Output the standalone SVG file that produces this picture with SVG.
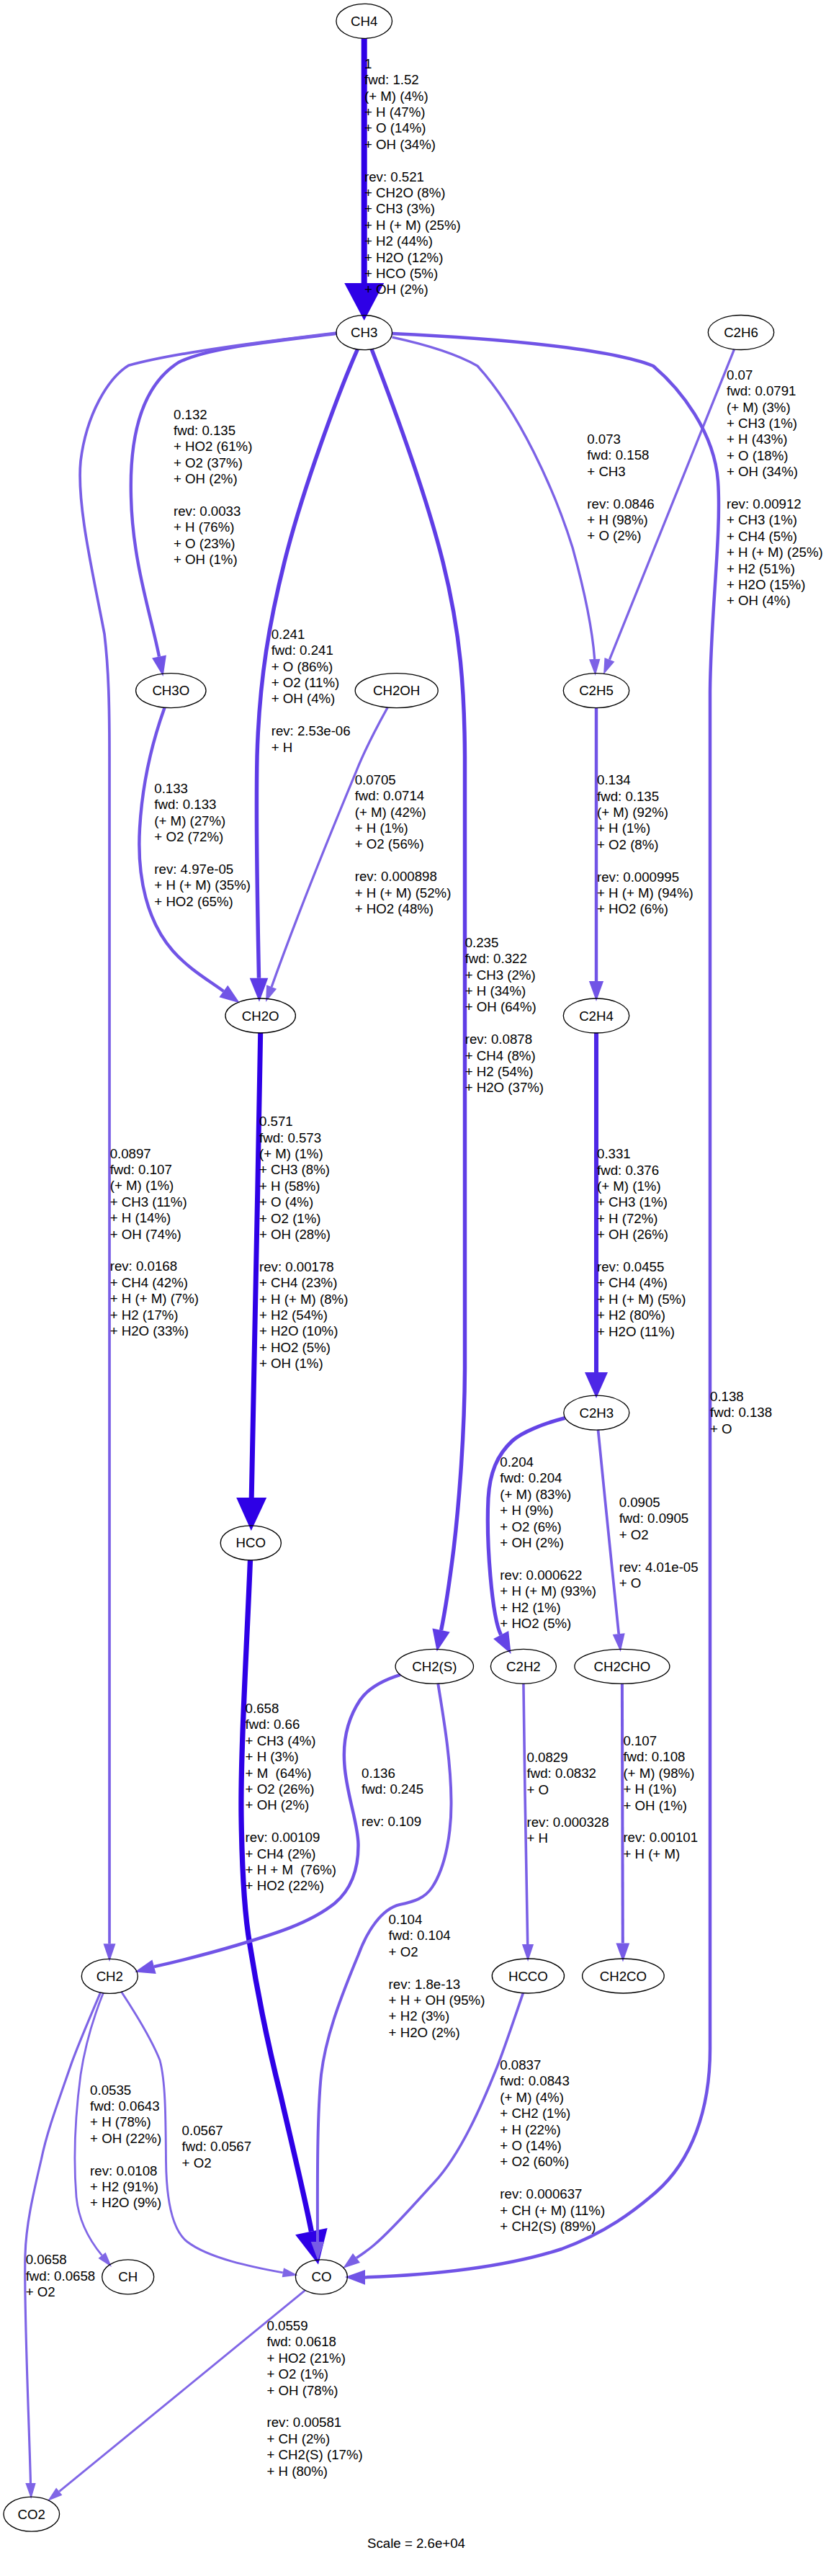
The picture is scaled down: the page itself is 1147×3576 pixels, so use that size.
<svg xmlns="http://www.w3.org/2000/svg" width="1147" height="3576" viewBox="0 0 1147 3576">
<style>
text{font-family:"Liberation Sans",Arial,Helvetica,sans-serif;font-size:18.67px;fill:#000}
.node ellipse{fill:none;stroke:#000;stroke-width:1.33}
.node text{text-anchor:middle}
.edge path{fill:none}
.edge polygon{stroke:none}
.k1 path{stroke:#2E00E6}.k1 polygon{fill:#2E00E6}
.k331 path{stroke:#4D27E6}.k331 polygon{fill:#4D27E6}
.k241 path{stroke:#5D3BE6}.k241 polygon{fill:#5D3BE6}
.k235 path{stroke:#5F3DE6}.k235 polygon{fill:#5F3DE6}
.k204 path{stroke:#6444E6}.k204 polygon{fill:#6444E6}
.k138 path{stroke:#7053E6}.k138 polygon{fill:#7053E6}
.k13 path{stroke:#7154E6}.k13 polygon{fill:#7154E6}
.k107 path{stroke:#765AE6}.k107 polygon{fill:#765AE6}
.k104 path{stroke:#775BE6}.k104 polygon{fill:#775BE6}
.k09 path{stroke:#795EE6}.k09 polygon{fill:#795EE6}
.k083 path{stroke:#7A60E6}.k083 polygon{fill:#7A60E6}
.k073 path{stroke:#7C62E6}.k073 polygon{fill:#7C62E6}
.k07 path{stroke:#7D63E6}.k07 polygon{fill:#7D63E6}
.k066 path{stroke:#7E64E6}.k066 polygon{fill:#7E64E6}
.k056 path{stroke:#7F66E6}.k056 polygon{fill:#7F66E6}
.k055 path{stroke:#8066E6}.k055 polygon{fill:#8066E6}
</style>
<rect width="1147" height="3576" fill="#fff"/>
<g id="connectors">
<g id="e_CH4_CH3" class="edge k1">
<path d="M505.7,53.1 L505.7,394" stroke-width="8"/>
<polygon points="505.7,445 533.2,393 478.2,393"/>
<text x="506" y="94.8"><tspan x="506">1</tspan><tspan x="506" dy="22.4">fwd: 1.52</tspan><tspan x="506" dy="22.4">(+ M) (4%)</tspan><tspan x="506" dy="22.4">+ H (47%)</tspan><tspan x="506" dy="22.4">+ O (14%)</tspan><tspan x="506" dy="22.4">+ OH (34%)</tspan><tspan x="506" dy="44.8">rev: 0.521</tspan><tspan x="506" dy="22.4">+ CH2O (8%)</tspan><tspan x="506" dy="22.4">+ CH3 (3%)</tspan><tspan x="506" dy="22.4">+ H (+ M) (25%)</tspan><tspan x="506" dy="22.4">+ H2 (44%)</tspan><tspan x="506" dy="22.4">+ H2O (12%)</tspan><tspan x="506" dy="22.4">+ HCO (5%)</tspan><tspan x="506" dy="22.4">+ OH (2%)</tspan></text>
</g>
<g id="e_CH3_CH3O" class="edge k13">
<path d="M467.9,462.9 C380,474 290,482 248,503 C190,540 180,620 182,690 C184,780 210,855 221,911.5" stroke-width="4.4"/>
<polygon points="226.5,939 211.1,913.5 230.9,909.5"/>
<text x="241" y="581.5"><tspan x="241">0.132</tspan><tspan x="241" dy="22.4">fwd: 0.135</tspan><tspan x="241" dy="22.4">+ HO2 (61%)</tspan><tspan x="241" dy="22.4">+ O2 (37%)</tspan><tspan x="241" dy="22.4">+ OH (2%)</tspan><tspan x="241" dy="44.8">rev: 0.0033</tspan><tspan x="241" dy="22.4">+ H (76%)</tspan><tspan x="241" dy="22.4">+ O (23%)</tspan><tspan x="241" dy="22.4">+ OH (1%)</tspan></text>
</g>
<g id="e_CH3_CH2" class="edge k09">
<path d="M467.9,462.1 C360,475 240,490 178.6,507.3 C150,525 120,575 112,640 C106,700 130,800 145,880 C151,930 152,980 152,1050 L152,2698.2" stroke-width="3.7"/>
<polygon points="152,2723.2 160.5,2698.2 143.5,2698.2"/>
<text x="152.7" y="1607.5"><tspan x="152.7">0.0897</tspan><tspan x="152.7" dy="22.4">fwd: 0.107</tspan><tspan x="152.7" dy="22.4">(+ M) (1%)</tspan><tspan x="152.7" dy="22.4">+ CH3 (11%)</tspan><tspan x="152.7" dy="22.4">+ H (14%)</tspan><tspan x="152.7" dy="22.4">+ OH (74%)</tspan><tspan x="152.7" dy="44.8">rev: 0.0168</tspan><tspan x="152.7" dy="22.4">+ CH4 (42%)</tspan><tspan x="152.7" dy="22.4">+ H (+ M) (7%)</tspan><tspan x="152.7" dy="22.4">+ H2 (17%)</tspan><tspan x="152.7" dy="22.4">+ H2O (33%)</tspan></text>
</g>
<g id="e_CH3_CH2O" class="edge k241">
<path d="M496.4,485 C470,545 420,680 395,780 C375,860 360,940 357,1050 C355,1150 358,1280 359.5,1357.7" stroke-width="5.46"/>
<polygon points="360,1390.7 372.3,1357.7 346.7,1357.7"/>
<text x="376.7" y="886.7"><tspan x="376.7">0.241</tspan><tspan x="376.7" dy="22.4">fwd: 0.241</tspan><tspan x="376.7" dy="22.4">+ O (86%)</tspan><tspan x="376.7" dy="22.4">+ O2 (11%)</tspan><tspan x="376.7" dy="22.4">+ OH (4%)</tspan><tspan x="376.7" dy="44.8">rev: 2.53e-06</tspan><tspan x="376.7" dy="22.4">+ H</tspan></text>
</g>
<g id="e_CH3_CH2S" class="edge k235">
<path d="M516,484.6 C545,560 590,680 615,780 C640,880 645,960 645.5,1050 L645.5,1900 C645,2000 636,2100 630,2150 C625,2190 619,2232 612.6,2263" stroke-width="5.42"/>
<polygon points="606.7,2292.5 600.4,2260.6 624.7,2265.5"/>
<text x="645.7" y="1314.8"><tspan x="645.7">0.235</tspan><tspan x="645.7" dy="22.4">fwd: 0.322</tspan><tspan x="645.7" dy="22.4">+ CH3 (2%)</tspan><tspan x="645.7" dy="22.4">+ H (34%)</tspan><tspan x="645.7" dy="22.4">+ OH (64%)</tspan><tspan x="645.7" dy="44.8">rev: 0.0878</tspan><tspan x="645.7" dy="22.4">+ CH4 (8%)</tspan><tspan x="645.7" dy="22.4">+ H2 (54%)</tspan><tspan x="645.7" dy="22.4">+ H2O (37%)</tspan></text>
</g>
<g id="e_CH3_C2H5" class="edge k073">
<path d="M544.5,468.2 C590,478 635,492 663,508 C720,570 770,680 795,760 C813,825 823,880 825.7,915" stroke-width="3.34"/>
<polygon points="826.7,938 818,915.3 833.4,914.7"/>
<text x="815.3" y="616"><tspan x="815.3">0.073</tspan><tspan x="815.3" dy="22.4">fwd: 0.158</tspan><tspan x="815.3" dy="22.4">+ CH3</tspan><tspan x="815.3" dy="44.8">rev: 0.0846</tspan><tspan x="815.3" dy="22.4">+ H (98%)</tspan><tspan x="815.3" dy="22.4">+ O (2%)</tspan></text>
</g>
<g id="e_C2H6_C2H5" class="edge k07">
<path d="M1019.6,484.8 L846.4,915.7" stroke-width="3.27"/>
<polygon points="838,936.6 839.5,912.9 853.4,918.6"/>
<text x="1009" y="526.8"><tspan x="1009">0.07</tspan><tspan x="1009" dy="22.4">fwd: 0.0791</tspan><tspan x="1009" dy="22.4">(+ M) (3%)</tspan><tspan x="1009" dy="22.4">+ CH3 (1%)</tspan><tspan x="1009" dy="22.4">+ H (43%)</tspan><tspan x="1009" dy="22.4">+ O (18%)</tspan><tspan x="1009" dy="22.4">+ OH (34%)</tspan><tspan x="1009" dy="44.8">rev: 0.00912</tspan><tspan x="1009" dy="22.4">+ CH3 (1%)</tspan><tspan x="1009" dy="22.4">+ CH4 (5%)</tspan><tspan x="1009" dy="22.4">+ H (+ M) (25%)</tspan><tspan x="1009" dy="22.4">+ H2 (51%)</tspan><tspan x="1009" dy="22.4">+ H2O (15%)</tspan><tspan x="1009" dy="22.4">+ OH (4%)</tspan></text>
</g>
<g id="e_CH3_CO" class="edge k138">
<path d="M544.4,463 C700,470 850,485 907,508 C945,540 992,600 997,668 C1002,740 987,850 986,960 L986,2844 C986,2930 960,3000 911,3043 C880,3070 840,3100 780,3122 C700,3148 600,3158 507,3161.4" stroke-width="4.48"/>
<polygon points="479,3161 507,3151.1 507,3171.7"/>
<text x="986" y="1944.8"><tspan x="986">0.138</tspan><tspan x="986" dy="22.4">fwd: 0.138</tspan><tspan x="986" dy="22.4">+ O</tspan></text>
</g>
<g id="e_CH3O_CH2O" class="edge k13">
<path d="M228.5,982.5 C215,1020 198,1080 194,1150 C190,1220 205,1280 240,1320 C262,1345 290,1361 310.4,1376" stroke-width="4.41"/>
<polygon points="333,1392.5 304.4,1384.2 316.3,1367.8"/>
<text x="214.3" y="1100.8"><tspan x="214.3">0.133</tspan><tspan x="214.3" dy="22.4">fwd: 0.133</tspan><tspan x="214.3" dy="22.4">(+ M) (27%)</tspan><tspan x="214.3" dy="22.4">+ O2 (72%)</tspan><tspan x="214.3" dy="44.8">rev: 4.97e-05</tspan><tspan x="214.3" dy="22.4">+ H (+ M) (35%)</tspan><tspan x="214.3" dy="22.4">+ HO2 (65%)</tspan></text>
</g>
<g id="e_CH2OH_CH2O" class="edge k07">
<path d="M538.3,982 C520,1015 505,1045 495,1070 C470,1130 420,1250 377.1,1370" stroke-width="3.28"/>
<polygon points="369,1391 370.1,1367.3 384.1,1372.7"/>
<text x="492.7" y="1088.8"><tspan x="492.7">0.0705</tspan><tspan x="492.7" dy="22.4">fwd: 0.0714</tspan><tspan x="492.7" dy="22.4">(+ M) (42%)</tspan><tspan x="492.7" dy="22.4">+ H (1%)</tspan><tspan x="492.7" dy="22.4">+ O2 (56%)</tspan><tspan x="492.7" dy="44.8">rev: 0.000898</tspan><tspan x="492.7" dy="22.4">+ H (+ M) (52%)</tspan><tspan x="492.7" dy="22.4">+ HO2 (48%)</tspan></text>
</g>
<g id="e_C2H5_C2H4" class="edge k13">
<path d="M828,982.5 L828,1362" stroke-width="4.42"/>
<polygon points="828,1390 838.1,1362 817.9,1362"/>
<text x="829" y="1089.2"><tspan x="829">0.134</tspan><tspan x="829" dy="22.4">fwd: 0.135</tspan><tspan x="829" dy="22.4">(+ M) (92%)</tspan><tspan x="829" dy="22.4">+ H (1%)</tspan><tspan x="829" dy="22.4">+ O2 (8%)</tspan><tspan x="829" dy="44.8">rev: 0.000995</tspan><tspan x="829" dy="22.4">+ H (+ M) (94%)</tspan><tspan x="829" dy="22.4">+ HO2 (6%)</tspan></text>
</g>
<g id="e_CH2O_HCO" class="edge k1">
<path d="M361.7,1433.5 C358,1650 353,1900 349.2,2080" stroke-width="7"/>
<polygon points="348.8,2125 370.2,2079 328.2,2079"/>
<text x="360" y="1563.2"><tspan x="360">0.571</tspan><tspan x="360" dy="22.4">fwd: 0.573</tspan><tspan x="360" dy="22.4">(+ M) (1%)</tspan><tspan x="360" dy="22.4">+ CH3 (8%)</tspan><tspan x="360" dy="22.4">+ H (58%)</tspan><tspan x="360" dy="22.4">+ O (4%)</tspan><tspan x="360" dy="22.4">+ O2 (1%)</tspan><tspan x="360" dy="22.4">+ OH (28%)</tspan><tspan x="360" dy="44.8">rev: 0.00178</tspan><tspan x="360" dy="22.4">+ CH4 (23%)</tspan><tspan x="360" dy="22.4">+ H (+ M) (8%)</tspan><tspan x="360" dy="22.4">+ H2 (54%)</tspan><tspan x="360" dy="22.4">+ H2O (10%)</tspan><tspan x="360" dy="22.4">+ HO2 (5%)</tspan><tspan x="360" dy="22.4">+ OH (1%)</tspan></text>
</g>
<g id="e_C2H4_C2H3" class="edge k331">
<path d="M828,1433.5 L828,1906" stroke-width="6.03"/>
<polygon points="828,1941 844,1905 812,1905"/>
<text x="829" y="1608.2"><tspan x="829">0.331</tspan><tspan x="829" dy="22.4">fwd: 0.376</tspan><tspan x="829" dy="22.4">(+ M) (1%)</tspan><tspan x="829" dy="22.4">+ CH3 (1%)</tspan><tspan x="829" dy="22.4">+ H (72%)</tspan><tspan x="829" dy="22.4">+ OH (26%)</tspan><tspan x="829" dy="44.8">rev: 0.0455</tspan><tspan x="829" dy="22.4">+ CH4 (4%)</tspan><tspan x="829" dy="22.4">+ H (+ M) (5%)</tspan><tspan x="829" dy="22.4">+ H2 (80%)</tspan><tspan x="829" dy="22.4">+ H2O (11%)</tspan></text>
</g>
<g id="e_HCO_CO" class="edge k1">
<path d="M347.5,2165.5 C342,2300 334,2430 335,2520 C336,2600 340,2660 347,2700 C358,2770 375,2850 390,2910 C405,2975 422,3045 432.4,3097.6" stroke-width="7.26"/>
<polygon points="442,3143.6 410.1,3102.3 454.6,3092.9"/>
<text x="340.6" y="2378" xml:space="preserve" style="white-space:pre"><tspan x="340.6">0.658</tspan><tspan x="340.6" dy="22.4">fwd: 0.66</tspan><tspan x="340.6" dy="22.4">+ CH3 (4%)</tspan><tspan x="340.6" dy="22.4">+ H (3%)</tspan><tspan x="340.6" dy="22.4">+ M  (64%)</tspan><tspan x="340.6" dy="22.4">+ O2 (26%)</tspan><tspan x="340.6" dy="22.4">+ OH (2%)</tspan><tspan x="340.6" dy="44.8">rev: 0.00109</tspan><tspan x="340.6" dy="22.4">+ CH4 (2%)</tspan><tspan x="340.6" dy="22.4">+ H + M  (76%)</tspan><tspan x="340.6" dy="22.4">+ HO2 (22%)</tspan></text>
</g>
<g id="e_C2H3_C2H2" class="edge k204">
<path d="M784.5,1968.5 C755,1976 725,1988 711.6,2000 C690,2020 680,2045 678,2080 C675,2140 683,2245 695.6,2269.5" stroke-width="5.17"/>
<polygon points="709.6,2296 685.1,2275 706.2,2263.9"/>
<text x="694.3" y="2036"><tspan x="694.3">0.204</tspan><tspan x="694.3" dy="22.4">fwd: 0.204</tspan><tspan x="694.3" dy="22.4">(+ M) (83%)</tspan><tspan x="694.3" dy="22.4">+ H (9%)</tspan><tspan x="694.3" dy="22.4">+ O2 (6%)</tspan><tspan x="694.3" dy="22.4">+ OH (2%)</tspan><tspan x="694.3" dy="44.8">rev: 0.000622</tspan><tspan x="694.3" dy="22.4">+ H (+ M) (93%)</tspan><tspan x="694.3" dy="22.4">+ H2 (1%)</tspan><tspan x="694.3" dy="22.4">+ HO2 (5%)</tspan></text>
</g>
<g id="e_C2H3_CH2CHO" class="edge k09">
<path d="M830.5,1984.7 C840,2080 852,2200 859.2,2268.1" stroke-width="3.72"/>
<polygon points="861.7,2293 850.7,2269 867.7,2267.3"/>
<text x="859.7" y="2092"><tspan x="859.7">0.0905</tspan><tspan x="859.7" dy="22.4">fwd: 0.0905</tspan><tspan x="859.7" dy="22.4">+ O2</tspan><tspan x="859.7" dy="44.8">rev: 4.01e-05</tspan><tspan x="859.7" dy="22.4">+ O</tspan></text>
</g>
<g id="e_CH2S_CH2" class="edge k13">
<path d="M556,2324.8 C530,2333 510,2345 500,2360 C480,2390 476,2420 478.4,2450 C481,2490 497,2530 497.5,2560 C498,2600 485,2625 465,2642 C430,2670 380,2685 330,2700 C290,2712 250,2722 214,2730.2" stroke-width="4.45"/>
<polygon points="187,2737.5 211.4,2720.5 216.7,2740"/>
<text x="502.1" y="2468"><tspan x="502.1">0.136</tspan><tspan x="502.1" dy="22.4">fwd: 0.245</tspan><tspan x="502.1" dy="44.8">rev: 0.109</tspan></text>
</g>
<g id="e_CH2S_CO" class="edge k104">
<path d="M608.2,2336.7 C615,2380 626,2440 626.5,2500 C627,2540 620,2590 600,2620 C590,2635 575,2640 555,2644 C530,2650 510,2680 497.5,2714 C470,2780 452,2830 446,2880 C441,2930 440.5,3000 441,3112" stroke-width="3.97"/>
<polygon points="441.5,3138 450.2,3112 431.8,3112"/>
<text x="539.6" y="2671"><tspan x="539.6">0.104</tspan><tspan x="539.6" dy="22.4">fwd: 0.104</tspan><tspan x="539.6" dy="22.4">+ O2</tspan><tspan x="539.6" dy="44.8">rev: 1.8e-13</tspan><tspan x="539.6" dy="22.4">+ H + OH (95%)</tspan><tspan x="539.6" dy="22.4">+ H2 (3%)</tspan><tspan x="539.6" dy="22.4">+ H2O (2%)</tspan></text>
</g>
<g id="e_C2H2_HCCO" class="edge k083">
<path d="M726.9,2336.8 C728,2450 731,2600 732.7,2699" stroke-width="3.57"/>
<polygon points="733.1,2723 741.1,2699 724.9,2699"/>
<text x="731.5" y="2446"><tspan x="731.5">0.0829</tspan><tspan x="731.5" dy="22.4">fwd: 0.0832</tspan><tspan x="731.5" dy="22.4">+ O</tspan><tspan x="731.5" dy="44.8">rev: 0.000328</tspan><tspan x="731.5" dy="22.4">+ H</tspan></text>
</g>
<g id="e_CH2CHO_CH2CO" class="edge k107">
<path d="M863.9,2336.8 L864.8,2697.5" stroke-width="4.02"/>
<polygon points="865,2723.5 874.2,2697.5 855.4,2697.5"/>
<text x="865.4" y="2423"><tspan x="865.4">0.107</tspan><tspan x="865.4" dy="22.4">fwd: 0.108</tspan><tspan x="865.4" dy="22.4">(+ M) (98%)</tspan><tspan x="865.4" dy="22.4">+ H (1%)</tspan><tspan x="865.4" dy="22.4">+ OH (1%)</tspan><tspan x="865.4" dy="44.8">rev: 0.00101</tspan><tspan x="865.4" dy="22.4">+ H (+ M)</tspan></text>
</g>
<g id="e_HCCO_CO" class="edge k083">
<path d="M726.5,2766.3 C715,2800 700,2845 690,2870 C670,2920 640,2990 602.7,3030 C575,3060 545,3095 520,3116 C512,3123 503,3129 495,3134.4" stroke-width="3.58"/>
<polygon points="476,3149 490,3127.9 500,3140.9"/>
<text x="694.3" y="2873"><tspan x="694.3">0.0837</tspan><tspan x="694.3" dy="22.4">fwd: 0.0843</tspan><tspan x="694.3" dy="22.4">(+ M) (4%)</tspan><tspan x="694.3" dy="22.4">+ CH2 (1%)</tspan><tspan x="694.3" dy="22.4">+ H (22%)</tspan><tspan x="694.3" dy="22.4">+ O (14%)</tspan><tspan x="694.3" dy="22.4">+ O2 (60%)</tspan><tspan x="694.3" dy="44.8">rev: 0.000637</tspan><tspan x="694.3" dy="22.4">+ CH (+ M) (11%)</tspan><tspan x="694.3" dy="22.4">+ CH2(S) (89%)</tspan></text>
</g>
<g id="e_CH2_CH" class="edge k055">
<path d="M143.5,2766.3 C130,2800 118,2840 112,2880 C104,2940 102,3000 106,3050 C110,3090 130,3117 141.5,3130.9" stroke-width="2.79"/>
<polygon points="155,3147 136.5,3135.1 146.6,3126.7"/>
<text x="125.1" y="2907.5"><tspan x="125.1">0.0535</tspan><tspan x="125.1" dy="22.4">fwd: 0.0643</tspan><tspan x="125.1" dy="22.4">+ H (78%)</tspan><tspan x="125.1" dy="22.4">+ OH (22%)</tspan><tspan x="125.1" dy="44.8">rev: 0.0108</tspan><tspan x="125.1" dy="22.4">+ H2 (91%)</tspan><tspan x="125.1" dy="22.4">+ H2O (9%)</tspan></text>
</g>
<g id="e_CH2_CO" class="edge k056">
<path d="M168.4,2764.8 C185,2790 210,2830 222,2860 C230,2890 230,2940 230.5,3000 C231,3050 238,3095 260,3112 C290,3135 350,3147 392.8,3154.8" stroke-width="2.89"/>
<polygon points="413.5,3158.5 391.7,3161.3 394,3148.3"/>
<text x="252.6" y="2963.8"><tspan x="252.6">0.0567</tspan><tspan x="252.6" dy="22.4">fwd: 0.0567</tspan><tspan x="252.6" dy="22.4">+ O2</tspan></text>
</g>
<g id="e_CH2_CO2" class="edge k066">
<path d="M139.7,2765.6 C125,2800 110,2835 99.5,2863.6 C80,2920 65,2960 57.4,2997.5 C45,3050 36,3090 35,3130 C33,3200 40,3350 42.5,3447" stroke-width="3.15"/>
<polygon points="43.2,3469 49.7,3447 35.3,3447"/>
<text x="35.7" y="3143.3"><tspan x="35.7">0.0658</tspan><tspan x="35.7" dy="22.4">fwd: 0.0658</tspan><tspan x="35.7" dy="22.4">+ O2</tspan></text>
</g>
<g id="e_CO_CO2" class="edge k055">
<path d="M423.7,3179.4 L82.3,3458.7" stroke-width="2.87"/>
<polygon points="66,3472 78.1,3453.6 86.4,3463.8"/>
<text x="370.5" y="3235"><tspan x="370.5">0.0559</tspan><tspan x="370.5" dy="22.4">fwd: 0.0618</tspan><tspan x="370.5" dy="22.4">+ HO2 (21%)</tspan><tspan x="370.5" dy="22.4">+ O2 (1%)</tspan><tspan x="370.5" dy="22.4">+ OH (78%)</tspan><tspan x="370.5" dy="44.8">rev: 0.00581</tspan><tspan x="370.5" dy="22.4">+ CH (2%)</tspan><tspan x="370.5" dy="22.4">+ CH2(S) (17%)</tspan><tspan x="370.5" dy="22.4">+ H (80%)</tspan></text>
</g>
</g>
<g id="nodes">
<g id="n_CH4" class="node"><ellipse cx="505.7" cy="29.3" rx="38.8" ry="24"/><text x="505.7" y="35.8">CH4</text></g>
<g id="n_CH3" class="node"><ellipse cx="505.7" cy="461.7" rx="38.8" ry="24"/><text x="505.7" y="468.2">CH3</text></g>
<g id="n_C2H6" class="node"><ellipse cx="1029" cy="461.5" rx="45.7" ry="24"/><text x="1029" y="468">C2H6</text></g>
<g id="n_CH3O" class="node"><ellipse cx="237.3" cy="958.7" rx="48.7" ry="24"/><text x="237.3" y="965.2">CH3O</text></g>
<g id="n_CH2OH" class="node"><ellipse cx="550.7" cy="958.7" rx="57.5" ry="24"/><text x="550.7" y="965.2">CH2OH</text></g>
<g id="n_C2H5" class="node"><ellipse cx="828" cy="958.7" rx="45.7" ry="24"/><text x="828" y="965.2">C2H5</text></g>
<g id="n_CH2O" class="node"><ellipse cx="361.7" cy="1410" rx="48.7" ry="24"/><text x="361.7" y="1416.5">CH2O</text></g>
<g id="n_C2H4" class="node"><ellipse cx="828" cy="1410" rx="45.7" ry="24"/><text x="828" y="1416.5">C2H4</text></g>
<g id="n_C2H3" class="node"><ellipse cx="828.3" cy="1961.2" rx="45.5" ry="24"/><text x="828.3" y="1967.7">C2H3</text></g>
<g id="n_HCO" class="node"><ellipse cx="348.3" cy="2141.9" rx="42.1" ry="24"/><text x="348.3" y="2148.4">HCO</text></g>
<g id="n_CH2S" class="node"><ellipse cx="603.3" cy="2313.3" rx="54.2" ry="24"/><text x="603.3" y="2319.8">CH2(S)</text></g>
<g id="n_C2H2" class="node"><ellipse cx="726.9" cy="2313.3" rx="45.5" ry="24"/><text x="726.9" y="2319.8">C2H2</text></g>
<g id="n_CH2CHO" class="node"><ellipse cx="863.9" cy="2313.3" rx="66" ry="24"/><text x="863.9" y="2319.8">CH2CHO</text></g>
<g id="n_CH2" class="node"><ellipse cx="152.3" cy="2743.4" rx="39" ry="24"/><text x="152.3" y="2749.9">CH2</text></g>
<g id="n_HCCO" class="node"><ellipse cx="733.4" cy="2743" rx="50.1" ry="24"/><text x="733.4" y="2749.5">HCCO</text></g>
<g id="n_CH2CO" class="node"><ellipse cx="865.4" cy="2743" rx="56.8" ry="24"/><text x="865.4" y="2749.5">CH2CO</text></g>
<g id="n_CH" class="node"><ellipse cx="177.7" cy="3160.8" rx="36" ry="24"/><text x="177.7" y="3167.3">CH</text></g>
<g id="n_CO" class="node"><ellipse cx="446.4" cy="3160.8" rx="36" ry="24"/><text x="446.4" y="3167.3">CO</text></g>
<g id="n_CO2" class="node"><ellipse cx="43.8" cy="3490.1" rx="38.8" ry="24"/><text x="43.8" y="3496.6">CO2</text></g>
</g>
<text x="578" y="3536.5" text-anchor="middle">Scale = 2.6e+04</text>
</svg>
